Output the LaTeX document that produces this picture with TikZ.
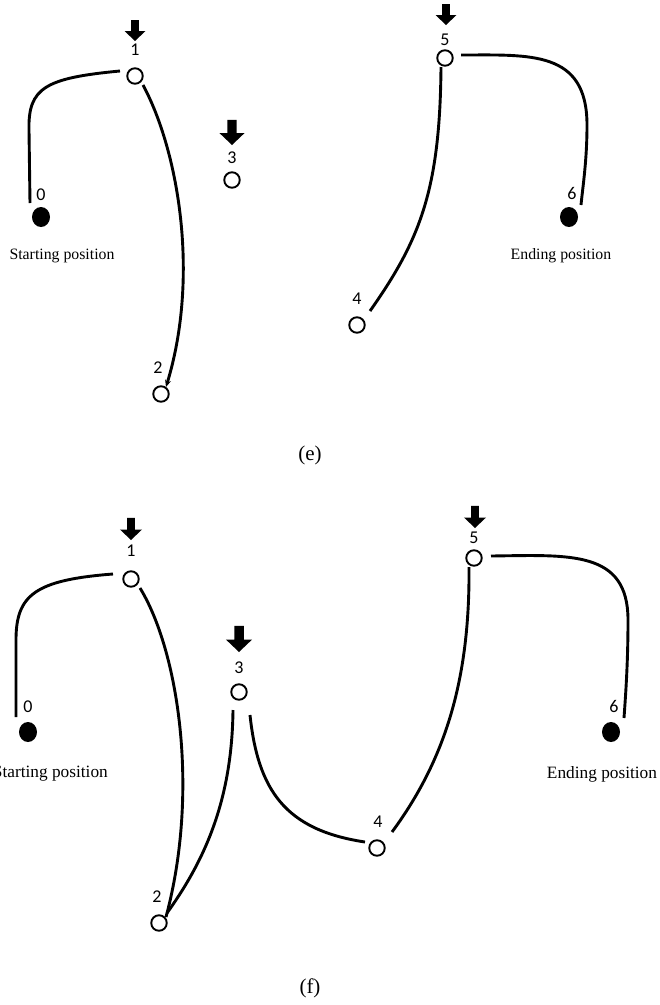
\documentclass[tikz,border=0pt]{standalone}
\usepackage{fontspec}
\setmainfont{Liberation Serif}
\newfontfamily\digitfont{Carlito}
\usetikzlibrary{calc,arrows.meta,shapes.geometric}
\tikzset{
  opennode/.style={circle,draw,line width=1.9pt,minimum size=15.5pt,inner sep=0pt,fill=white},
  filledpos/.style={ellipse,fill=black,minimum width=18pt,minimum height=20pt,inner sep=0pt},
  num/.style={font=\digitfont\fontsize{18}{18}\selectfont,inner sep=0pt},
  posA/.style={font=\fontsize{15.8}{16}\selectfont,inner sep=0pt},
  posB/.style={font=\fontsize{17.3}{18}\selectfont,inner sep=0pt},
  caption/.style={font=\fontsize{21}{22}\selectfont,inner sep=0pt},
  curve/.style={line width=2.9pt},
  downarrow/.pic={\fill (0,0) -- (-10.5,-10) -- (-3.8,-10) -- (-3.8,-21) -- (3.8,-21) -- (3.8,-10) -- (10.5,-10) -- cycle;}
}
\begin{document}
\begin{tikzpicture}[x=1pt,y=-1pt]
\useasboundingbox[fill=white] (0,0) rectangle (660,1005);
% ---------- (e) ----------
\node[filledpos] (e0) at (41,217) {};
\node[opennode] (e1) at (135,76) {};
\node[opennode] (e2) at (161,394) {};
\node[opennode] (e3) at (232,180) {};
\node[opennode] (e4) at (357,325) {};
\node[opennode] (e5) at (445,58) {};
\node[filledpos] (e6) at (569,217) {};
\node[num] (le0) at (41,195) {0};
\node[num] (le1) at (135,50) {1};
\node[num] (le2) at (158,368) {2};
\node[num] (le3) at (232,158) {3};
\node[num] (le4) at (357,299) {4};
\node[num] (le5) at (445,40) {5};
\node[num] (le6) at (572,193) {6};
\pic at (135,41) {downarrow};
\pic[scale=1.2] at (232,145) {downarrow};
\pic at (446,25) {downarrow};
\node[posA] (estart) at (62,256) {Starting position};
\node[posA] (eend) at (561,256) {Ending position};
\node[caption] (ecap) at (310,455) {(e)};
\draw[curve] ($(e0)+(-11,-14)$) -- ($(e0)+(-12,-87)$) .. controls (28,88) and (45,78) .. ($(e1)+(-15,-5)$);
\draw[curve,-{Stealth[length=7pt,width=6pt]}] ($(e1)+(8,9)$) .. controls (178,150) and (200,275) .. ($(e2)+(5,-7)$);
\draw[curve] ($(e5)+(16,-3)$) .. controls (530,55) and (587,50) .. (587,125) .. controls (587,160) and (583,185) .. ($(e6)+(12,-12)$);
\draw[curve] ($(e5)+(-4,9)$) .. controls (440,190) and (420,240) .. ($(e4)+(13,-14)$);
% ---------- (f) ----------
\node[filledpos] (f0) at (28,732) {};
\node[opennode] (f1) at (131,579) {};
\node[opennode] (f2) at (159,923) {};
\node[opennode] (f3) at (239,692) {};
\node[opennode] (f4) at (377,848) {};
\node[opennode] (f5) at (474,558) {};
\node[filledpos] (f6) at (611,732) {};
\node[num] (lf0) at (28,707) {0};
\node[num] (lf1) at (131,551) {1};
\node[num] (lf2) at (157,897) {2};
\node[num] (lf3) at (239,668) {3};
\node[num] (lf4) at (378,822) {4};
\node[num] (lf5) at (474,538) {5};
\node[num] (lf6) at (614,706) {6};
\pic[scale=1.05] at (131,540) {downarrow};
\pic[scale=1.25] at (239,652) {downarrow};
\pic[scale=1.05] at (475,528) {downarrow};
\node[posB,anchor=east] (fstart) at (108,774) {Starting position};
\node[posB] (fend) at (602,774) {Ending position};
\node[caption] (fcap) at (310,988) {(f)};
\draw[curve] ($(f0)+(-12,-15)$) -- ($(f0)+(-12,-92)$) .. controls (16,595) and (35,580) .. ($(f1)+(-18,-5)$);
\draw[curve] ($(f1)+(9,9)$) .. controls (178,650) and (200,790) .. ($(f2)+(7,-6)$);
\draw[curve] ($(f2)+(8,-10)$) .. controls (205,860) and (232,800) .. ($(f3)+(-6,18)$);
\draw[curve] ($(f3)+(11,23)$) .. controls (258,790) and (285,830) .. ($(f4)+(-12,-6)$);
\draw[curve] ($(f4)+(15,-16)$) .. controls (445,760) and (470,680) .. ($(f5)+(-5,9)$);
\draw[curve] ($(f5)+(17,-2)$) .. controls (570,555) and (628,550) .. (628,620) .. controls (628,660) and (626,690) .. ($(f6)+(13,-14)$);
\end{tikzpicture}
\end{document}
